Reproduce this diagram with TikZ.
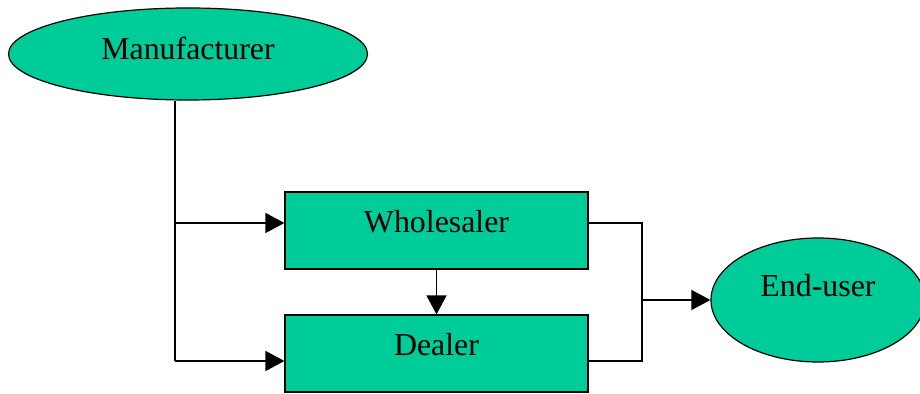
\documentclass[tikz,border=0pt]{standalone}
\usepackage{fontspec}
\setmainfont{Liberation Serif}
\usetikzlibrary{positioning,arrows.meta,shapes.geometric}
\definecolor{chanfill}{RGB}{0,204,153}
\tikzset{
    party/.style = {
        draw,
        shape=ellipse,
        fill=chanfill,
        inner sep=0pt,
        line width=0.6bp,
        font=\fontsize{16}{19}\selectfont
    },
    block/.style = {
        draw,
        shape=rectangle,
        fill=chanfill,
        minimum width=151.5bp,
        minimum height=38.5bp,
        inner sep=0pt,
        text depth=9bp,
        line width=0.6bp,
        font=\fontsize{16}{19}\selectfont
    },
    >={Triangle[length=9.5bp,width=10bp]},
}

\begin{document}
\begin{tikzpicture}[x=0.5bp,y=-0.5bp,line width=0.8bp]
                \useasboundingbox (0,0) rectangle (920,394);
                \node[party,minimum width=179.5bp,minimum height=46bp,text depth=6bp] (man) at (188,54) {Manufacturer};
                \node[block] (whole) at (436.5,230.5) {Wholesaler};
                \node[block] (deal) at (436.5,353.5) {Dealer};
                \node[party,minimum width=107bp,minimum height=62bp,text depth=15bp] (user) at (818,300) {End-user};

                \coordinate (mtop) at (175,223);
                \coordinate (mbot) at (175,361);
                \coordinate (ujoin) at (642,300);

                \path[draw, -] (mtop |- man.south) -- (mbot);
                \path[draw, ->] (mtop) -- (whole.west |- mtop);
                \path[draw, ->] (mbot) -- (deal.west |- mbot);
                \path[draw, ->] (whole) -- (deal);
                \path[draw, -] (whole.east |- mtop) -| (ujoin);
                \path[draw, -] (deal.east |- mbot) -| (ujoin);
                \path[draw, ->] (ujoin) -- (user.west |- ujoin);
            \end{tikzpicture}
\end{document}
